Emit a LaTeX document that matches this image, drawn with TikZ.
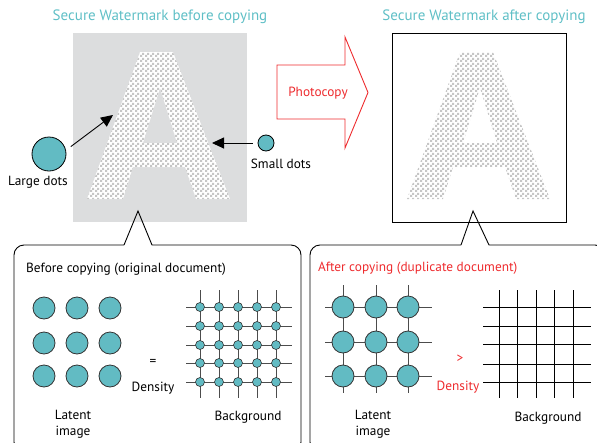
\documentclass[tikz,border=0pt]{standalone}
\usepackage{fontspec}
\setmainfont{PT Sans}
\usetikzlibrary{arrows.meta,patterns}
\usepackage{xcolor}

\definecolor{wmteal}{HTML}{5FBFC6}
\definecolor{dotteal}{HTML}{62BBC3}
\definecolor{copyred}{HTML}{EE2B2E}
\definecolor{boxgray}{HTML}{DCDDDE}
\definecolor{checkgray}{HTML}{C6C6C6}

\pgfdeclarepatternformonly{watermark checker}{\pgfpointorigin}{\pgfqpoint{5pt}{5pt}}{\pgfqpoint{5pt}{5pt}}{%
  \pgfpathrectangle{\pgfpointorigin}{\pgfqpoint{2.5pt}{2.5pt}}%
  \pgfpathrectangle{\pgfqpoint{2.5pt}{2.5pt}}{\pgfqpoint{2.5pt}{2.5pt}}%
  \pgfusepath{fill}}

\begin{document}
\begin{tikzpicture}
[
x=1pt, y=-1pt,
graph title/.style={font=\fontsize{15}{17}\selectfont, color=wmteal},
graph text/.style={font=\fontsize{13.3}{16}\selectfont, inner sep=0pt},
graph redtext/.style={font=\fontsize{13.3}{16}\selectfont, color=copyred, inner sep=0pt},
graph largedot/.style={circle,draw,fill=dotteal,line width=0.8pt,minimum size=34pt,inner sep=0pt},
graph smalldot/.style={circle,draw,fill=dotteal,line width=0.8pt,minimum size=16pt,inner sep=0pt},
graph latentdot/.style={circle,draw=black!80,fill=dotteal,line width=0.8pt,minimum size=22pt,inner sep=0pt},
graph griddot/.style={circle,draw=black!80,fill=dotteal,line width=0.6pt,minimum size=9pt,inner sep=0pt},
graph pointer/.style={line width=0.9pt,-{Triangle[length=12pt,width=11pt]}},
graph callout/.style={line width=0.9pt,line join=miter}
]
\useasboundingbox (0,0) rectangle (597,442);

% titles
\node[graph title] (T1) at (160,17) {Secure Watermark before copying};
\node[graph title] (T2) at (484,17) {Secure Watermark after copying};

% documents
\node[fill=boxgray, minimum width=174pt, minimum height=189pt, inner sep=0pt] (B1) at (160,127.5) {};
\node[draw, line width=1pt, minimum width=174pt, minimum height=189pt, inner sep=0pt] (B2) at (479,127.5) {};

% letter A
\foreach \dx in {0,320} {
  \fill[white, even odd rule, shift={(\dx,0)}] (87,199) -- (140,52) -- (173,52) -- (230,199) -- (196,199) -- (185,167) -- (133,167) -- (123,199) -- cycle
    (143,143) -- (160,88) -- (177,143) -- cycle;
  \fill[pattern=watermark checker, pattern color=checkgray, even odd rule, shift={(\dx,0)}] (87,199) -- (140,52) -- (173,52) -- (230,199) -- (196,199) -- (185,167) -- (133,167) -- (123,199) -- cycle
    (143,143) -- (160,88) -- (177,143) -- cycle;
}

% photocopy arrow
\draw[copyred, line width=0.9pt, fill=white] (277,65) -- (345,65) -- (345,37) -- (368,92.5) -- (345,148) -- (345,119) -- (277,119) -- cycle;
\node[graph redtext] (P) at (318,93) {Photocopy};

% dots
\node[graph largedot] (LD) at (49,154) {};
\node[graph text] (LDT) at (38,182) {Large dots};
\coordinate (LA) at (113,115);
\draw[graph pointer] ([xshift=6pt]LD.25) -- (LA);

\node[graph smalldot] (SD) at (266,143) {};
\node[graph text] (SDT) at (281,164) {Small dots};
\coordinate (SA) at (212,143);
\draw[graph pointer, shorten <=5pt] (SD) -- (SA);

% callouts
\draw[graph callout] (124,245) -- (138,211) -- (152,245) [rounded corners=10pt] -- (301,245) -- (301,452) -- (14,452) -- (14,245) -- (124,245);
\draw[graph callout] (461,245) -- (473,211) -- (489,245) [rounded corners=10pt] -- (605,245) -- (605,452) -- (310,452) -- (310,245) -- (461,245);

% before copying
\node[graph text, anchor=west] (C1) at (26,269) {Before copying (original document)};
\foreach \i/\x in {1/44,2/77,3/110} {
  \foreach \j/\y in {1/308,2/343,3/376} {
    \node[graph latentdot] (L\i\j) at (\x,\y) {};
  }
}
\foreach \x in {200,219,238,257,276} \draw[black!70, line width=0.8pt] (\x,290) -- (\x,398);
\foreach \y in {307,326,345,363,382} \draw[black!70, line width=0.8pt] (186,\y) -- (292,\y);
\foreach \i/\x in {1/200,2/219,3/238,4/257,5/276} {
  \foreach \j/\y in {1/307,2/326,3/345,4/363,5/382} {
    \node[graph griddot] (G\i\j) at (\x,\y) {};
  }
}
\node[graph text] (E1) at (153,362) {=};
\node[graph text] (D1) at (153,388) {Density};
\node[graph text, align=center] (LI1) at (73,424) {Latent\\image};
\node[graph text] (BG1) at (248,417) {Background};

% after copying
\node[graph redtext, anchor=west] (C2) at (318,268) {After copying (duplicate document)};
\foreach \x in {343,376,408} \draw[black!70, line width=0.8pt] (\x,285) -- (\x,393);
\foreach \y in {307,342,376} \draw[black!70, line width=0.8pt] (325,\y) -- (432,\y);
\foreach \i/\x in {1/343,2/376,3/408} {
  \foreach \j/\y in {1/307,2/342,3/376} {
    \node[graph latentdot] (M\i\j) at (\x,\y) {};
  }
}
\foreach \x in {499,517,536,554,573} \draw[line width=0.9pt] (\x,290) -- (\x,398);
\foreach \y in {307,326,344,364,382} \draw[line width=0.9pt] (483,\y) -- (591,\y);
\node[graph redtext] (E2) at (460,359) {>};
\node[graph redtext] (D2) at (458,387) {Density};
\node[graph text, align=center] (LI2) at (373,424) {Latent\\image};
\node[graph text] (BG2) at (548,418) {Background};

\end{tikzpicture}
\end{document}
